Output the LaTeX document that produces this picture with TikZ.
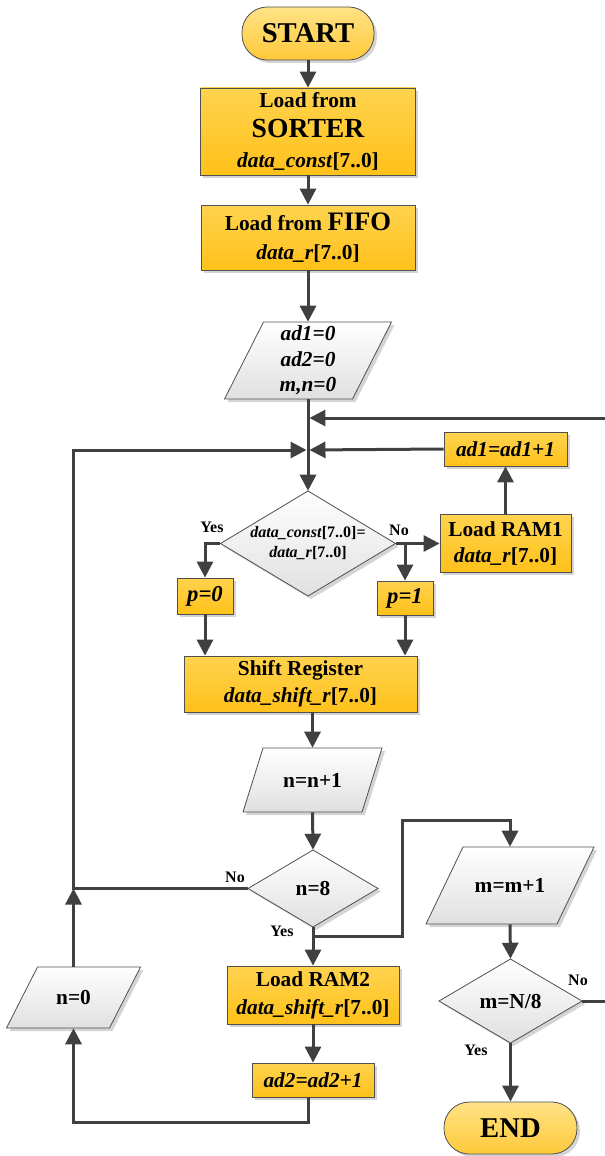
\documentclass[tikz,border=0pt]{standalone}
\usepackage{fontspec}
\setmainfont{Liberation Serif}
\usetikzlibrary{arrows.meta,calc,shadows}
\definecolor{goldtop}{HTML}{FFD34F}
\definecolor{goldbot}{HTML}{FFC11A}
\definecolor{pilltop}{HTML}{FFE387}
\definecolor{pillbot}{HTML}{FFC93A}
\definecolor{graytop}{HTML}{FFFFFF}
\definecolor{graybot}{HTML}{E0E0E0}
\definecolor{bordc}{HTML}{505050}
\definecolor{connc}{HTML}{404040}
\definecolor{shadc}{HTML}{D4D4D4}
\def\pxu{0.75pt}
\tikzset{
 txt/.style={inner sep=0pt, align=center, font=\bfseries\fontsize{16}{19}\selectfont},
 gbox/.style={txt, draw=bordc, line width=0.6pt, top color=goldtop, bottom color=goldbot,
   drop shadow={shadow xshift=2.2pt, shadow yshift=-2.2pt, fill=shadc, opacity=1}},
 pill/.style={gbox, top color=pilltop, bottom color=pillbot, rounded corners=19pt,
   font=\bfseries\fontsize{21.5}{24}\selectfont},
 gshape/.style={draw=bordc, line width=0.6pt, top color=graytop, bottom color=graybot},
 shad/.style={fill=shadc},
 conn/.style={draw=connc, line width=2.25pt},
 arr/.style={conn, -{Triangle[width=12pt,length=12pt]}},
 lab/.style={inner sep=0pt, font=\bfseries\fontsize{12}{14}\selectfont},
}
% name, x, y, middle width, height, slant
\newcommand\paranode[7][]{%
 \fill[shad] ({#3-#5/2-#7/2+3},{#4+#6/2+3}) -- ({#3+#5/2-#7/2+3},{#4+#6/2+3}) -- ({#3+#5/2+#7/2+3},{#4-#6/2+3}) -- ({#3-#5/2+#7/2+3},{#4-#6/2+3}) -- cycle;
 \draw[gshape] ({#3-#5/2-#7/2},{#4+#6/2}) -- ({#3+#5/2-#7/2},{#4+#6/2}) -- ({#3+#5/2+#7/2},{#4-#6/2}) -- ({#3-#5/2+#7/2},{#4-#6/2}) -- cycle;
 \node[txt, minimum width=#5*\pxu, minimum height=#6*\pxu, #1] (#2) at (#3,#4) {\paratext};}
\newcommand\dianode[6][]{%
 \fill[shad] ({#3+3},{#4-#6/2+3}) -- ({#3+#5/2+3},{#4+3}) -- ({#3+3},{#4+#6/2+3}) -- ({#3-#5/2+3},{#4+3}) -- cycle;
 \draw[gshape] ({#3},{#4-#6/2}) -- ({#3+#5/2},{#4}) -- ({#3},{#4+#6/2}) -- ({#3-#5/2},{#4}) -- cycle;
 \node[txt, minimum width=#5*\pxu, minimum height=#6*\pxu, #1] (#2) at (#3,#4) {\diatext};}
\begin{document}
\begin{tikzpicture}[x=0.75pt,y=-0.75pt]
\useasboundingbox (0,0) rectangle (605,1156);
% main column
\node[pill, minimum width=132*\pxu, minimum height=53*\pxu] (start) at (308,33.5) {START};
\node[gbox, minimum width=215*\pxu, minimum height=87*\pxu, font=\bfseries\fontsize{16}{22.5}\selectfont] (b1) at (308,131.5)
  {Load from\\{\fontsize{20.7}{22.5}\selectfont SORTER}\\\textit{data\_const}[7..0]};
\node[gbox, minimum width=214*\pxu, minimum height=65*\pxu, font=\bfseries\fontsize{16}{22}\selectfont] (b2) at (308,237.5)
  {Load from {\fontsize{20}{22}\selectfont FIFO}\\\textit{data\_r}[7..0]};
\def\paratext{\textit{ad1=0}\\\textit{ad2=0}\\\textit{m,n=0}}
\paranode{init}{308}{360.5}{128}{77}{39}
\node[gbox, minimum width=123*\pxu, minimum height=34*\pxu] (ad1) at (505.5,449) {\textit{ad1=ad1+1}};
\def\diatext{\textit{data\_const}[7..0]=\\\textit{data\_r}[7..0]}
\dianode[font=\bfseries\fontsize{12}{15}\selectfont]{dec1}{308}{543.5}{175}{105}
\node[gbox, minimum width=131*\pxu, minimum height=58*\pxu, font=\bfseries\fontsize{16}{20}\selectfont] (ram1) at (505.5,543.5) {Load RAM1\\\textit{data\_r}[7..0]};
\node[gbox, minimum width=56*\pxu, minimum height=36*\pxu, font=\bfseries\fontsize{17}{20}\selectfont] (p0) at (205,596) {\textit{p=0}};
\node[gbox, minimum width=56*\pxu, minimum height=34*\pxu, font=\bfseries\fontsize{17}{20}\selectfont] (p1) at (405,598) {\textit{p=1}};
\node[gbox, minimum width=233*\pxu, minimum height=56*\pxu, font=\bfseries\fontsize{16}{20}\selectfont] (shift) at (300.5,684) {Shift Register\\\textit{data\_shift\_r}[7..0]};
\def\paratext{n=n+1}
\paranode{nn1}{312.5}{780}{119}{64}{20}
\def\diatext{n=8}
\dianode{n8}{313}{888.5}{130}{77}
\def\paratext{m=m+1}
\paranode{mm1}{510}{885.5}{131}{77}{37}
\def\diatext{m=N/8}
\dianode{mn8}{510.5}{1001}{143}{84}
\node[pill, minimum width=133*\pxu, minimum height=52*\pxu] (end) at (510.5,1128) {END};
\node[gbox, minimum width=172*\pxu, minimum height=58*\pxu, font=\bfseries\fontsize{16}{21}\selectfont] (ram2) at (313,995) {Load RAM2\\\textit{data\_shift\_r}[7..0]};
\node[gbox, minimum width=122*\pxu, minimum height=34*\pxu] (ad2) at (313,1080) {\textit{ad2=ad2+1}};
\def\paratext{n=0}
\paranode{n0}{73.5}{997.5}{103}{61}{31}
% junctions and free ends
\coordinate (j1) at (308,418);
\coordinate (j2) at (308,450);
\coordinate (rin) at (605,418);
\coordinate (rout) at (605,1001);
\coordinate (jl) at (n0.north |- n8.west);
\coordinate (ybr) at ($(n8.south)+(0,9)$);
\coordinate (cA) at (402,820);
% connectors
\draw[arr] (start.south) -- (b1.north);
\draw[arr] (b1.south) -- (b2.north);
\draw[arr] (b2.south) -- (init.north);
\draw[arr] (init.south) -- (dec1.north);
\draw[arr, shorten >=1.1pt] (rin) -- (j1);
\draw[arr, shorten >=1.1pt] (ad1.west) -- (j2);
\draw[arr, shorten >=1.1pt] (n8.west) -- (jl) -- (jl |- j2) -- (j2);
\draw[arr] (n0.north) -- (jl);
\draw[arr] (dec1.west) -| (p0.north);
\draw[arr] (dec1.east) -| (p1.north);
\draw[arr] (dec1.east) -- (ram1.west);
\draw[arr] (ram1.north) -- (ad1.south);
\draw[arr] (p0.south) -- (p0.south |- shift.north);
\draw[arr] (p1.south) -- (p1.south |- shift.north);
\draw[arr] (nn1.north |- shift.south) -- (nn1.north);
\draw[arr] (nn1.south) -- (n8.north);
\draw[arr] (n8.south) -- (ram2.north);
\draw[arr] (ybr) -| (cA) -| (mm1.north);
\draw[arr] (mm1.south) -- (mn8.north);
\draw[conn] (mn8.east) -- (rout);
\draw[arr] (mn8.south) -- (end.north);
\draw[arr] (ram2.south) -- (ad2.north);
\draw[arr] ($(ad2.south)+(-5,0)$) -- ++(0,25) -| (n0.south);
% labels
\node[lab] (yes1) at (212,527) {Yes};
\node[lab] (no1) at (399,530) {No};
\node[lab] (no2) at (235,877) {No};
\node[lab] (yes2) at (282,931) {Yes};
\node[lab] (no3) at (578,980) {No};
\node[lab] (yes3) at (476,1050) {Yes};
\end{tikzpicture}
\end{document}
